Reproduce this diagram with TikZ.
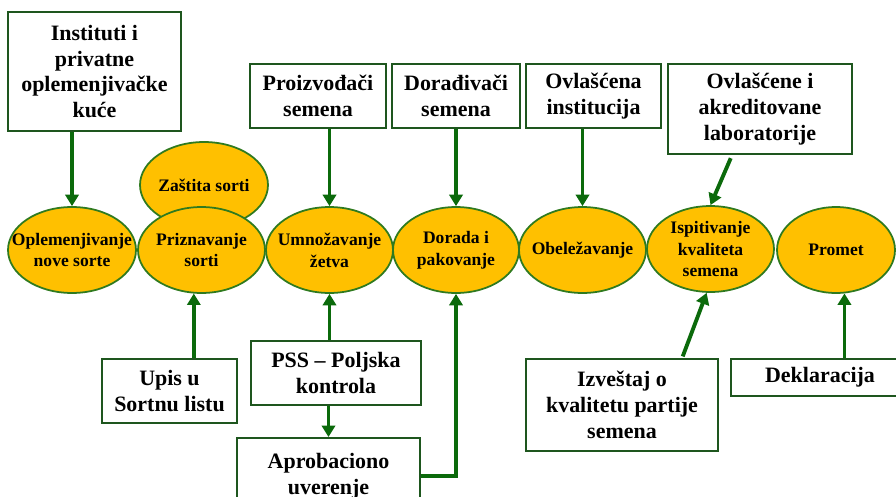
\documentclass[tikz,border=0pt]{standalone}
\usepackage{fontspec}
\setmainfont{Liberation Serif}
\usetikzlibrary{arrows.meta,calc,shapes.geometric}
\definecolor{gold}{HTML}{FFC000}
\definecolor{ovalgreen}{HTML}{2F7A1F}
\definecolor{boxgreen}{HTML}{1E561E}
\definecolor{arrgreen}{HTML}{0B6A0B}
\tikzset{
  boxnode/.style={draw=boxgreen, line width=1.1pt, fill=white, align=center,
    inner sep=0pt, font=\bfseries\fontsize{12.5}{14.6}\selectfont},
  oval/.style={ellipse, draw=ovalgreen, line width=1pt, fill=gold, align=center,
    inner xsep=-12pt, inner ysep=-5pt, minimum height=1.72cm,
    font=\bfseries\fontsize{10}{12.4}\selectfont},
  arr/.style={draw=arrgreen, line width=2.2pt, -{Triangle[length=6.5pt,width=7.5pt]}}
}
\begin{document}
\begin{tikzpicture}[x=0.02cm,y=-0.02cm]
  \useasboundingbox (0,0) rectangle (896,497);
  \clip (0,0) rectangle (896,497);

  % upper boxes
  \node[boxnode, minimum width=3.46cm, minimum height=2.38cm] (inst) at (94.5,71.5)
    {Instituti i\\privatne\\oplemenjivačke\\kuće};
  \node[boxnode, minimum width=2.72cm, minimum height=1.28cm] (proiz) at (318,96)
    {Proizvođači\\semena};
  \node[boxnode, minimum width=2.56cm, minimum height=1.28cm] (dorad) at (456,96)
    {Dorađivači\\semena};
  \node[boxnode, minimum width=2.70cm, minimum height=1.28cm] (ovl) at (593.5,96)
    {Ovlašćena\\institucija};
  \node[boxnode, minimum width=3.68cm, minimum height=1.80cm] (lab) at (760,109)
    {Ovlašćene i\\akreditovane\\laboratorije};

  % process row
  \node[oval, minimum width=2.56cm] (zas) at (204,185) {Zaštita sorti};
  \node[oval, minimum width=2.56cm] (opl) at (72,250) {Oplemenjivanje\\nove sorte};
  \node[oval, minimum width=2.54cm] (priz) at (201.5,250) {Priznavanje\\sorti};
  \node[oval, minimum width=2.54cm] (umn) at (329.5,250) {Umnožavanje\\žetva};
  \node[oval, minimum width=2.52cm] (dor) at (456,250) {Dorada i\\pakovanje};
  \node[oval, minimum width=2.54cm] (obe) at (582.5,250) {Obeležavanje};
  \node[oval, minimum width=2.54cm] (isp) at (710.5,249) {Ispitivanje\\kvaliteta\\semena};
  \node[oval, minimum width=2.36cm] (prom) at (836,250) {Promet};

  % lower boxes
  \node[boxnode, minimum width=2.70cm, minimum height=1.28cm] (upis) at (169.5,391)
    {Upis u\\Sortnu listu};
  \node[boxnode, minimum width=3.40cm, minimum height=1.28cm] (pss) at (336,373)
    {PSS – Poljska\\kontrola};
  \node[boxnode, minimum width=3.66cm, minimum height=1.52cm] (aprob) at (328.5,476)
    {Aprobaciono\\uverenje};
  \node[boxnode, minimum width=3.84cm, minimum height=1.84cm] (izv) at (622,405)
    {Izveštaj o\\kvalitetu partije\\semena};
  \node[boxnode, minimum width=3.56cm, minimum height=0.74cm] (dekl) at (820,377.5)
    {Deklaracija};

  % arrows
  \draw[arr] (inst.south -| opl.north) -- (opl.north);
  \draw[arr] (proiz.south -| umn.north) -- (umn.north);
  \draw[arr] (dorad.south -| dor.north) -- (dor.north);
  \draw[arr] (ovl.south -| obe.north) -- (obe.north);
  \draw[arr, shorten <=2pt] ($(lab.south west)!0.35!(lab.south east)$) -- (isp.north);
  \draw[arr] (upis.north -| priz.260) -- (priz.260);
  \draw[arr] (pss.north -| umn.south) -- (umn.south);
  \draw[arr] (pss.south -| aprob.north) -- (aprob.north);
  \draw[arr] (aprob.east) -| (dor.south);
  \draw[arr, shorten <=1pt] ($(izv.north west)!0.81!(izv.north east)$) -- (isp.265);
  \draw[arr] (dekl.north -| prom.281) -- (prom.281);
\end{tikzpicture}
\end{document}
